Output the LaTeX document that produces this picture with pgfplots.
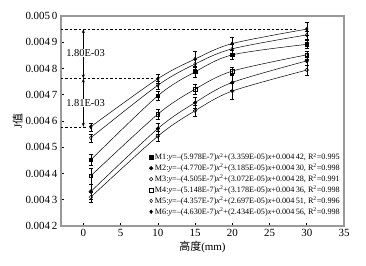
\documentclass[border=0pt]{standalone}
\usepackage{fontspec}
\setmainfont{Liberation Serif}
\newfontfamily\cjk{Noto Sans CJK SC}
\usepackage{pgfplots}
\pgfplotsset{compat=1.18}
\usetikzlibrary{arrows.meta}
\begin{document}
\begin{tikzpicture}
\begin{axis}[
  scale only axis, width=283bp, height=210bp,
  xmin=-3, xmax=35, ymin=0.0042, ymax=0.0050,
  axis line style={draw=gray!80, line width=1.1pt},
  tick style={black, line width=0.6pt},
  tick align=inside, major tick length=3bp,
  xtick={0,5,...,35},
  ytick={0.0042,0.0043,0.0044,0.0045,0.0046,0.0047,0.0048,0.0049,0.0050},
  yticklabels={0.004\,2,0.004\,3,0.004\,4,0.004\,5,0.004\,6,0.004\,7,0.004\,8,0.004\,9,0.005\,0},
  scaled y ticks=false,
  /pgf/number format/assume math mode=true,
  tick label style={font=\fontsize{11}{12}\selectfont},
  xtick pos=bottom, ytick pos=left,
  xlabel={{\cjk 高度}(mm)}, ylabel={J{\cjk 值}},
  label style={font=\fontsize{11}{12}\selectfont},
  xlabel style={yshift=3bp},
  ylabel style={yshift=-4bp},
  legend style={at={(rel axis cs:1,0)}, anchor=south east, draw=none, fill=none,
    font=\fontsize{8.2}{9}\selectfont, row sep=-1.2pt, inner sep=2pt, yshift=6bp},
  legend cell align=left,
  legend image code/.code={\draw[only marks] plot coordinates {(0.08cm,0cm)};},
  every axis plot/.append style={black, line width=0.5pt, mark size=1.8bp,
     error bars/y dir=both, error bars/y explicit,
     error bars/error mark options={rotate=90, mark size=1.8bp, line width=0.4pt},
     error bars/error bar style={line width=0.4pt}},
]
% M1 filled square
\addplot[smooth, mark=square*, mark options={fill=black}] coordinates {
 (1,0.004452) +- (0,0.000020) (10,0.004696) +- (0,0.000018) (15,0.004787) +- (0,0.000020)
 (20,0.004852) +- (0,0.000018) (30,0.004892) +- (0,0.000015)};
\addlegendentry{M1:\textit{y}=--(5.978E-7)\textit{x}\textsuperscript{2}+(3.359E-05)\textit{x}+0.004\,42, R\textsuperscript{2}=0.995}
% M2 filled circle
\addplot[smooth, mark=*, mark options={fill=black}] coordinates {
 (1,0.004331) +- (0,0.000030) (10,0.004571) +- (0,0.000020) (15,0.004670) +- (0,0.000022)
 (20,0.004747) +- (0,0.000030) (30,0.004829) +- (0,0.000015)};
\addlegendentry{M2:\textit{y}=--(4.770E-7)\textit{x}\textsuperscript{2}+(3.185E-05)\textit{x}+0.004\,30, R\textsuperscript{2}=0.998}
% M3 open circle
\addplot[smooth, mark=o] coordinates {
 (1,0.004310) +- (0,0.000020) (10,0.004542) +- (0,0.000018) (15,0.004639) +- (0,0.000020)
 (20,0.004714) +- (0,0.000030) (30,0.004794) +- (0,0.000018)};
\addlegendentry{M3:\textit{y}=--(4.505E-7)\textit{x}\textsuperscript{2}+(3.072E-05)\textit{x}+0.004\,28, R\textsuperscript{2}=0.991}
% M4 open square
\addplot[smooth, mark=square, mark options={fill=white}] coordinates {
 (1,0.004391) +- (0,0.000030) (10,0.004626) +- (0,0.000020) (15,0.004721) +- (0,0.000018)
 (20,0.004790) +- (0,0.000015) (30,0.004852) +- (0,0.000015)};
\addlegendentry{M4:\textit{y}=--(5.148E-7)\textit{x}\textsuperscript{2}+(3.178E-05)\textit{x}+0.004\,36, R\textsuperscript{2}=0.998}
% M5 open diamond
\addplot[smooth, mark=diamond, mark options={fill=white}] coordinates {
 (1,0.004536) +- (0,0.000015) (10,0.004736) +- (0,0.000015) (15,0.004817) +- (0,0.000020)
 (20,0.004875) +- (0,0.000018) (30,0.004928) +- (0,0.000015)};
\addlegendentry{M5:\textit{y}=--(4.357E-7)\textit{x}\textsuperscript{2}+(2.697E-05)\textit{x}+0.004\,51, R\textsuperscript{2}=0.996}
% M6 filled diamond
\addplot[smooth, mark=diamond*, mark options={fill=black}] coordinates {
 (1,0.004578) +- (0,0.000015) (10,0.004761) +- (0,0.000018) (15,0.004836) +- (0,0.000030)
 (20,0.004895) +- (0,0.000025) (30,0.004950) +- (0,0.000025)};
\addlegendentry{M6:\textit{y}=--(4.630E-7)\textit{x}\textsuperscript{2}+(2.434E-05)\textit{x}+0.004\,56, R\textsuperscript{2}=0.998}
% annotations
\draw[dash pattern=on 2.5pt off 2pt, line width=0.5pt] (axis cs:-3,0.00495) -- (axis cs:28.5,0.00495);
\draw[dash pattern=on 2.5pt off 2pt, line width=0.5pt] (axis cs:-3,0.004762) -- (axis cs:9.5,0.004762);
\draw[dash pattern=on 2.5pt off 2pt, line width=0.5pt] (axis cs:-3,0.004578) -- (axis cs:0.6,0.004578);
\draw[{Stealth[length=4bp,width=3bp]}-{Stealth[length=4bp,width=3bp]}, line width=0.5pt] (axis cs:0,0.00495) -- (axis cs:0,0.004762);
\draw[{Stealth[length=4bp,width=3bp]}-{Stealth[length=4bp,width=3bp]}, line width=0.5pt] (axis cs:0,0.004762) -- (axis cs:0,0.004578);
\node[fill=white, inner sep=0.5pt, font=\fontsize{10.5}{11}\selectfont] at (axis cs:0.3,0.004859) {1.80E-03};
\node[fill=white, inner sep=0.5pt, font=\fontsize{10.5}{11}\selectfont] at (axis cs:0.3,0.004669) {1.81E-03};
\end{axis}
\path ([xshift=-61bp,yshift=-40bp]current axis.south west) rectangle ([xshift=22bp,yshift=16bp]current axis.north east);
\end{tikzpicture}
\end{document}
